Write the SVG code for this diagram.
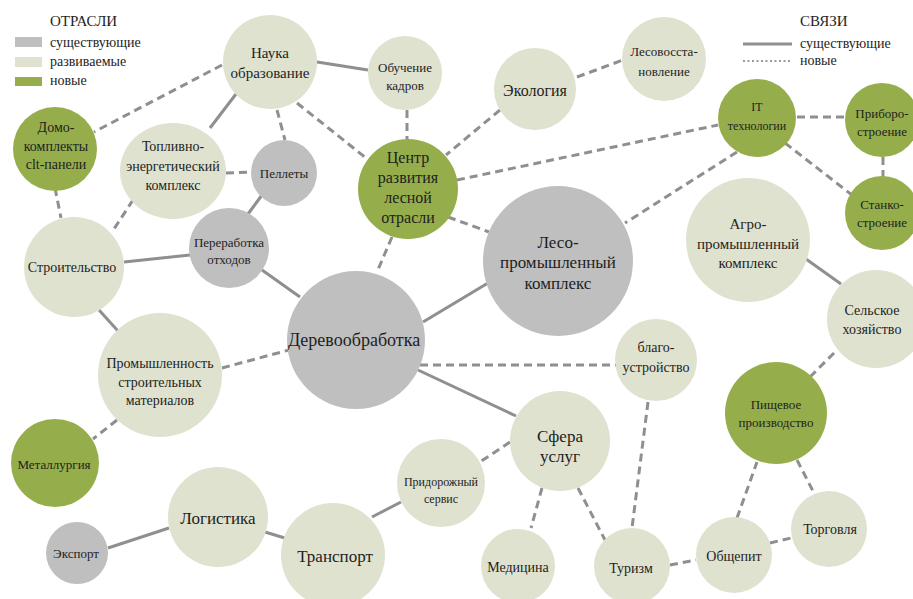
<svg xmlns="http://www.w3.org/2000/svg" width="913" height="599" viewBox="0 0 913 599" font-family="'Liberation Serif', 'DejaVu Serif', 'Noto Serif', serif">
<style>
text{font-family:'Liberation Serif','DejaVu Serif','Noto Serif',serif;fill:#1e1e1e;text-anchor:middle}
.lg{text-anchor:start;font-size:14px}
.e{fill:#bfbfbf}
.d{fill:#dee2cf}
.n{fill:#95ae4b}
.s{stroke:#8f8f8f;stroke-width:3;fill:none}
.h{stroke:#8f8f8f;stroke-width:3;fill:none;stroke-dasharray:8 5}
.t12{font-size:12px}.t13{font-size:13px}.t14{font-size:14px}.t15{font-size:15px}.t16{font-size:16px}.t17{font-size:17px}.t18{font-size:18px}
</style>
<rect width="913" height="599" fill="#ffffff"/>
<g id="legend">
<text x="50" y="26" class="lg" style="font-size:15px">ОТРАСЛИ</text>
<rect x="15" y="37" width="27" height="10" class="e"/>
<rect x="15" y="57" width="27" height="10" class="d"/>
<rect x="15" y="77" width="27" height="9" class="n"/>
<text x="50" y="47" class="lg">существующие</text>
<text x="50" y="66" class="lg">развиваемые</text>
<text x="50" y="85" class="lg">новые</text>
<text x="800" y="26" class="lg" style="font-size:15px">СВЯЗИ</text>
<line x1="743" y1="44" x2="792" y2="44" class="s"/>
<line x1="743" y1="61" x2="792" y2="61" stroke="#9a9a9a" stroke-width="2" stroke-dasharray="2 2.5"/>
<text x="800" y="48" class="lg">существующие</text>
<text x="800" y="65" class="lg">новые</text>
</g>
<g id="connectors">
<line x1="317" y1="62" x2="368" y2="70" class="s"/>
<line x1="236" y1="94" x2="210" y2="128" class="s"/>
<line x1="262" y1="195" x2="248" y2="214" class="s"/>
<line x1="124" y1="262" x2="190" y2="255" class="s"/>
<line x1="262" y1="270" x2="300" y2="297" class="s"/>
<line x1="99" y1="310" x2="118" y2="331" class="s"/>
<line x1="423" y1="322" x2="488" y2="283" class="s"/>
<line x1="418" y1="370" x2="516" y2="416" class="s"/>
<line x1="108" y1="548" x2="169" y2="528" class="s"/>
<line x1="265" y1="532" x2="288" y2="539" class="s"/>
<line x1="372" y1="517" x2="401" y2="502" class="s"/>
<line x1="806" y1="259" x2="841" y2="284" class="s"/>
<line x1="222" y1="65" x2="94" y2="132" class="h"/>
<line x1="277" y1="110" x2="285" y2="140" class="h"/>
<line x1="297" y1="103" x2="366" y2="158" class="h"/>
<line x1="407" y1="110" x2="407" y2="139" class="h"/>
<line x1="500" y1="110" x2="446" y2="155" class="h"/>
<line x1="577" y1="77" x2="623" y2="60" class="h"/>
<line x1="457" y1="180" x2="718" y2="125" class="h"/>
<line x1="448" y1="217" x2="489" y2="232" class="h"/>
<line x1="392" y1="237" x2="377" y2="272" class="h"/>
<line x1="737" y1="152" x2="625" y2="223" class="h"/>
<line x1="797" y1="117" x2="845" y2="117" class="h"/>
<line x1="785" y1="143" x2="852" y2="195" class="h"/>
<line x1="883" y1="157" x2="883" y2="177" class="h"/>
<line x1="226" y1="173" x2="251" y2="172" class="h"/>
<line x1="133" y1="200" x2="112" y2="232" class="h"/>
<line x1="55" y1="188" x2="61" y2="218" class="h"/>
<line x1="222" y1="368" x2="289" y2="350" class="h"/>
<line x1="117" y1="420" x2="93" y2="439" class="h"/>
<line x1="420" y1="365" x2="616" y2="365" class="h"/>
<line x1="648" y1="402" x2="632" y2="528" class="h"/>
<line x1="510" y1="442" x2="480" y2="462" class="h"/>
<line x1="542" y1="488" x2="531" y2="528" class="h"/>
<line x1="578" y1="488" x2="605" y2="540" class="h"/>
<line x1="670" y1="565" x2="696" y2="560" class="h"/>
<line x1="737" y1="518" x2="757" y2="462" class="h"/>
<line x1="770" y1="543" x2="791" y2="538" class="h"/>
<line x1="797" y1="460" x2="815" y2="495" class="h"/>
<line x1="810" y1="377" x2="835" y2="352" class="h"/>
</g>
<g id="nauka"><circle cx="270" cy="62" r="47" class="d"/><text x="270" y="58" class="t15">Наука</text><text x="270" y="78" class="t15">образование</text></g>
<g id="obuchenie"><circle cx="405" cy="73" r="37" class="d"/><text x="405" y="72" class="t13">Обучение</text><text x="405" y="90" class="t13">кадров</text></g>
<g id="ekologiya"><circle cx="535" cy="89" r="41" class="d"/><text x="535" y="96" class="t16">Экология</text></g>
<g id="lesovosst"><circle cx="664" cy="59" r="42" class="d"/><text x="664" y="56" class="t13">Лесовосста-</text><text x="664" y="76" class="t13">новление</text></g>
<g id="it"><circle cx="757" cy="118" r="39" class="n"/><text x="757" y="111" class="t12">IT</text><text x="757" y="130" class="t12">технологии</text></g>
<g id="priboro"><circle cx="882" cy="120" r="37" class="n"/><text x="882" y="118" class="t13">Приборо-</text><text x="882" y="136" class="t13">строение</text></g>
<g id="stanko"><circle cx="882" cy="213" r="37" class="n"/><text x="882" y="209" class="t13">Станко-</text><text x="882" y="227" class="t13">строение</text></g>
<g id="agro"><circle cx="748" cy="240" r="62" class="d"/><text x="748" y="229" class="t15">Агро-</text><text x="748" y="249" class="t15">промышленный</text><text x="748" y="268" class="t15">комплекс</text></g>
<g id="selskoe"><circle cx="876" cy="319" r="49" class="d"/><text x="872" y="315" class="t14">Сельское</text><text x="872" y="334" class="t14">хозяйство</text></g>
<g id="pishchevoe"><circle cx="776" cy="413" r="51" class="n"/><text x="776" y="409" class="t13">Пищевое</text><text x="776" y="427" class="t13">производство</text></g>
<g id="torgovlya"><circle cx="829" cy="529" r="38" class="d"/><text x="830" y="534" class="t14">Торговля</text></g>
<g id="obshchepit"><circle cx="734" cy="555" r="38" class="d"/><text x="734" y="561" class="t14">Общепит</text></g>
<g id="turizm"><circle cx="632" cy="566" r="38" class="d"/><text x="631" y="573" class="t14">Туризм</text></g>
<g id="blago"><circle cx="656" cy="360" r="41" class="d"/><text x="656" y="352" class="t14">благо-</text><text x="656" y="372" class="t14">устройство</text></g>
<g id="sfera"><circle cx="560" cy="441" r="50" class="d"/><text x="560" y="442" class="t17">Сфера</text><text x="560" y="462" class="t17">услуг</text></g>
<g id="pridorozhny"><circle cx="441" cy="483" r="44" class="d"/><text x="441" y="486" class="t12">Придорожный</text><text x="441" y="503" class="t12">сервис</text></g>
<g id="meditsina"><circle cx="518" cy="566" r="37" class="d"/><text x="518" y="572" class="t14">Медицина</text></g>
<g id="transport"><circle cx="333" cy="555" r="52" class="d"/><text x="335" y="562" class="t17">Транспорт</text></g>
<g id="logistika"><circle cx="218" cy="517" r="50" class="d"/><text x="218" y="524" class="t17">Логистика</text></g>
<g id="eksport"><circle cx="77" cy="553" r="31" class="e"/><text x="76" y="558" class="t13">Экспорт</text></g>
<g id="metallurgiya"><circle cx="55" cy="463" r="44" class="n"/><text x="54" y="469" class="t13">Металлургия</text></g>
<g id="promstroy"><circle cx="160" cy="375" r="62" class="d"/><text x="160" y="368" class="t14">Промышленность</text><text x="160" y="387" class="t14">строительных</text><text x="160" y="405" class="t14">материалов</text></g>
<g id="stroitelstvo"><circle cx="74" cy="267" r="50" class="d"/><text x="72" y="272" class="t14">Строительство</text></g>
<g id="pererabotka"><circle cx="229" cy="248" r="40" class="e"/><text x="229" y="247" class="t13">Переработка</text><text x="229" y="264" class="t13">отходов</text></g>
<g id="pellety"><circle cx="284" cy="173" r="33" class="e"/><text x="284" y="178" class="t13">Пеллеты</text></g>
<g id="tek"><ellipse cx="173" cy="171" rx="53" ry="48" class="d"/><text x="173" y="151" class="t14">Топливно-</text><text x="173" y="171" class="t14">энергетический</text><text x="173" y="190" class="t14">комплекс</text></g>
<g id="domokomplekty"><circle cx="55" cy="149" r="42" class="n"/><text x="56" y="132" class="t14">Домо-</text><text x="56" y="151" class="t14">комплекты</text><text x="56" y="169" class="t14">clt-панели</text></g>
<g id="derevoobrabotka"><circle cx="356" cy="340" r="69" class="e"/><text x="354" y="346" class="t18">Деревообработка</text></g>
<g id="lesoprom"><circle cx="558" cy="261" r="75" class="e"/><text x="558" y="248" class="t17">Лесо-</text><text x="558" y="268" class="t17">промышленный</text><text x="558" y="289" class="t17">комплекс</text></g>
<g id="tsentr"><circle cx="408" cy="189" r="50" class="n"/><text x="408" y="163" class="t16">Центр</text><text x="408" y="183" class="t16">развития</text><text x="408" y="203" class="t16">лесной</text><text x="408" y="223" class="t16">отрасли</text></g>
</svg>
